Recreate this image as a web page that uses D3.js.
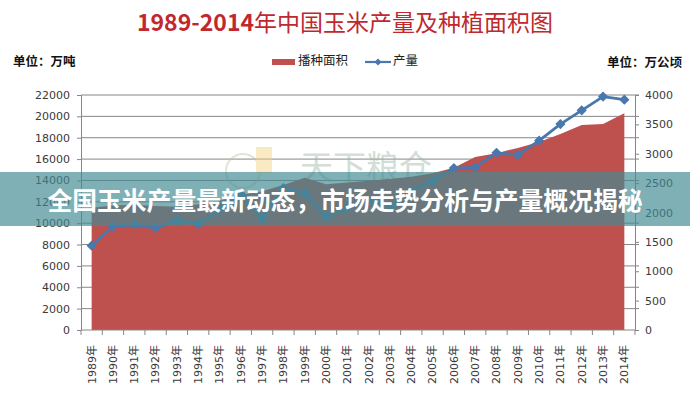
<!DOCTYPE html>
<html>
<head>
<meta charset="utf-8">
<script src="https://cdn.jsdelivr.net/npm/d3@7"></script>
<style>
  body { margin: 0; background: #fff; }
  svg { display: block; font-family: "DejaVu Sans", "Noto Sans CJK SC", sans-serif; }
</style>
</head>
<body>
<svg id="chart" width="690" height="399"></svg>
<script>
const years = ["1989年", "1990年", "1991年", "1992年", "1993年", "1994年", "1995年",
  "1996年", "1997年", "1998年", "1999年", "2000年", "2001年", "2002年", "2003年",
  "2004年", "2005年", "2006年", "2007年", "2008年", "2009年", "2010年", "2011年",
  "2012年", "2013年", "2014年"];
// 产量 (万吨, left axis)
const output = [7893, 9682, 9877, 9538, 10270, 9928, 11199, 12747, 10431, 13295, 12809,
  10600, 11409, 12131, 11583, 13029, 13937, 15160, 15230, 16591, 16397, 17725, 19278,
  20561, 21849, 21565];
// 播种面积 (万公顷, right axis)
const area = [2080, 2120, 2130, 2110, 2100, 2140, 2200, 2300, 2360, 2470, 2590, 2480,
  2510, 2540, 2570, 2610, 2670, 2760, 2945, 3010, 3100, 3200, 3335, 3490, 3505, 3690];
const leftTicks = [0, 2000, 4000, 6000, 8000, 10000, 12000, 14000, 16000, 18000, 20000, 22000];
const rightTicks = [0, 500, 1000, 1500, 2000, 2500, 3000, 3500, 4000];

const plot = {left: 81, right: 635, top: 95, bottom: 330};
const areaColor = "#be504e";
const lineColor = "#4a78ad";
const gray = "#868686";

const svg = d3.select("#chart");

const x = d3.scaleBand().domain(years).range([plot.left, plot.right]);
const yL = d3.scaleLinear().domain([0, 22000]).range([plot.bottom, plot.top]);
const yR = d3.scaleLinear().domain([0, 4000]).range([plot.bottom, plot.top]);
const cx = d => x(d) + x.bandwidth() / 2;

// horizontal gridlines (left axis)
svg.append("g")
  .selectAll("line")
  .data(leftTicks.slice(1))
  .join("line")
  .attr("x1", plot.left).attr("x2", plot.right + 4)
  .attr("y1", d => yL(d)).attr("y2", d => yL(d))
  .attr("stroke", gray).attr("stroke-width", 1);

// watermark
const wm = svg.append("g").attr("opacity", 0.45);
wm.append("circle").attr("cx", 243).attr("cy", 171).attr("r", 17)
  .attr("fill", "none").attr("stroke", "#c8c2a6").attr("stroke-width", 2);
wm.append("rect").attr("x", 256).attr("y", 147).attr("width", 16).attr("height", 26)
  .attr("fill", "#f2d27e");
wm.append("text").attr("x", 300).attr("y", 179)
  .attr("font-family", "Noto Sans CJK SC").attr("font-size", 33)
  .attr("fill", "#9db7a6").text("天下粮仓");

// 播种面积 area
svg.append("path")
  .datum(area)
  .attr("fill", areaColor)
  .attr("d", d3.area()
    .x((d, i) => cx(years[i]))
    .y0(plot.bottom)
    .y1(d => yR(d)));

// left axis
const axL = svg.append("g")
  .attr("transform", `translate(${plot.left},0)`)
  .call(d3.axisLeft(yL).tickValues(leftTicks).tickSize(4).tickPadding(7).tickFormat(d3.format("d")));
// right axis
const axR = svg.append("g")
  .attr("transform", `translate(${plot.right},0)`)
  .call(d3.axisRight(yR).tickValues(rightTicks).tickSize(4).tickPadding(6).tickFormat(d3.format("d")));
[axL, axR].forEach(g => {
  g.select(".domain").attr("stroke", gray);
  g.selectAll(".tick line").attr("stroke", gray);
  g.selectAll(".tick text").attr("fill", "#3a3a3a").attr("font-size", 11)
    .attr("font-family", "DejaVu Sans");
});

// x axis: baseline, boundary ticks, rotated labels
const axX = svg.append("g").attr("transform", `translate(0,${plot.bottom})`);
axX.append("line").attr("x1", plot.left).attr("x2", plot.right)
  .attr("stroke", gray);
axX.selectAll(".bt")
  .data(years.map(d => x(d)).concat([x(years[years.length - 1]) + x.bandwidth()]))
  .join("line")
  .attr("class", "bt")
  .attr("x1", d => d).attr("x2", d => d)
  .attr("y1", 0).attr("y2", 5)
  .attr("stroke", gray);
axX.selectAll(".lbl")
  .data(years)
  .join("text")
  .attr("class", "lbl")
  .attr("transform", d => `translate(${cx(d)},15) rotate(-90)`)
  .attr("text-anchor", "end")
  .attr("dy", "0.35em")
  .attr("font-size", 11)
  .attr("fill", "#3a3a3a")
  .text(d => d);

// 产量 line
svg.append("path")
  .datum(output)
  .attr("fill", "none")
  .attr("stroke", lineColor)
  .attr("stroke-width", 2.8)
  .attr("stroke-linejoin", "round")
  .attr("d", d3.line()
    .x((d, i) => cx(years[i]))
    .y(d => yL(d)));

const diamond = d3.symbol(d3.symbolSquare, 52);
svg.append("g")
  .selectAll("path")
  .data(output)
  .join("path")
  .attr("d", diamond)
  .attr("transform", (d, i) => `translate(${cx(years[i])},${yL(d)}) rotate(45)`)
  .attr("fill", lineColor);

// title
const title = svg.append("text")
  .attr("x", 345).attr("y", 25)
  .attr("text-anchor", "middle").attr("dominant-baseline", "middle")
  .attr("font-family", "Noto Sans CJK SC").attr("font-size", 23)
  .attr("fill", "#c0282e");
title.append("tspan").attr("font-weight", "bold").text("1989-2014");
title.append("tspan").text("年中国玉米产量及种植面积图");

// unit labels
svg.append("text").attr("x", 13).attr("y", 63)
  .attr("dominant-baseline", "middle")
  .attr("font-family", "Noto Sans CJK SC").attr("font-weight", "bold")
  .attr("font-size", 12.5).attr("fill", "#111")
  .text("单位：万吨");
svg.append("text").attr("x", 682).attr("y", 64)
  .attr("text-anchor", "end").attr("dominant-baseline", "middle")
  .attr("font-family", "Noto Sans CJK SC").attr("font-weight", "bold")
  .attr("font-size", 12.5).attr("fill", "#111")
  .text("单位：万公顷");

// legend
const lg = svg.append("g").attr("font-family", "Noto Sans CJK SC").attr("font-size", 12.5)
  .attr("fill", "#222");
lg.append("rect").attr("x", 272).attr("y", 59).attr("width", 23).attr("height", 6)
  .attr("fill", areaColor);
lg.append("text").attr("x", 298).attr("y", 62).attr("dominant-baseline", "middle")
  .text("播种面积");
lg.append("line").attr("x1", 365).attr("x2", 391).attr("y1", 62).attr("y2", 62)
  .attr("stroke", lineColor).attr("stroke-width", 2.2);
lg.append("path").attr("d", d3.symbol(d3.symbolSquare, 26))
  .attr("transform", "translate(378,62) rotate(45)").attr("fill", lineColor);
lg.append("text").attr("x", 393).attr("y", 62).attr("dominant-baseline", "middle")
  .text("产量");

// overlay banner
svg.append("rect")
  .attr("x", 0).attr("y", 172).attr("width", 690).attr("height", 54)
  .attr("fill", "rgb(67,139,146)").attr("opacity", 0.68);
svg.append("text")
  .attr("x", 345).attr("y", 199)
  .attr("text-anchor", "middle").attr("dominant-baseline", "central")
  .attr("font-family", "Noto Sans CJK SC").attr("font-weight", "bold")
  .attr("font-size", 24.8).attr("fill", "#fff")
  .text("全国玉米产量最新动态，市场走势分析与产量概况揭秘");
</script>
</body>
</html>
